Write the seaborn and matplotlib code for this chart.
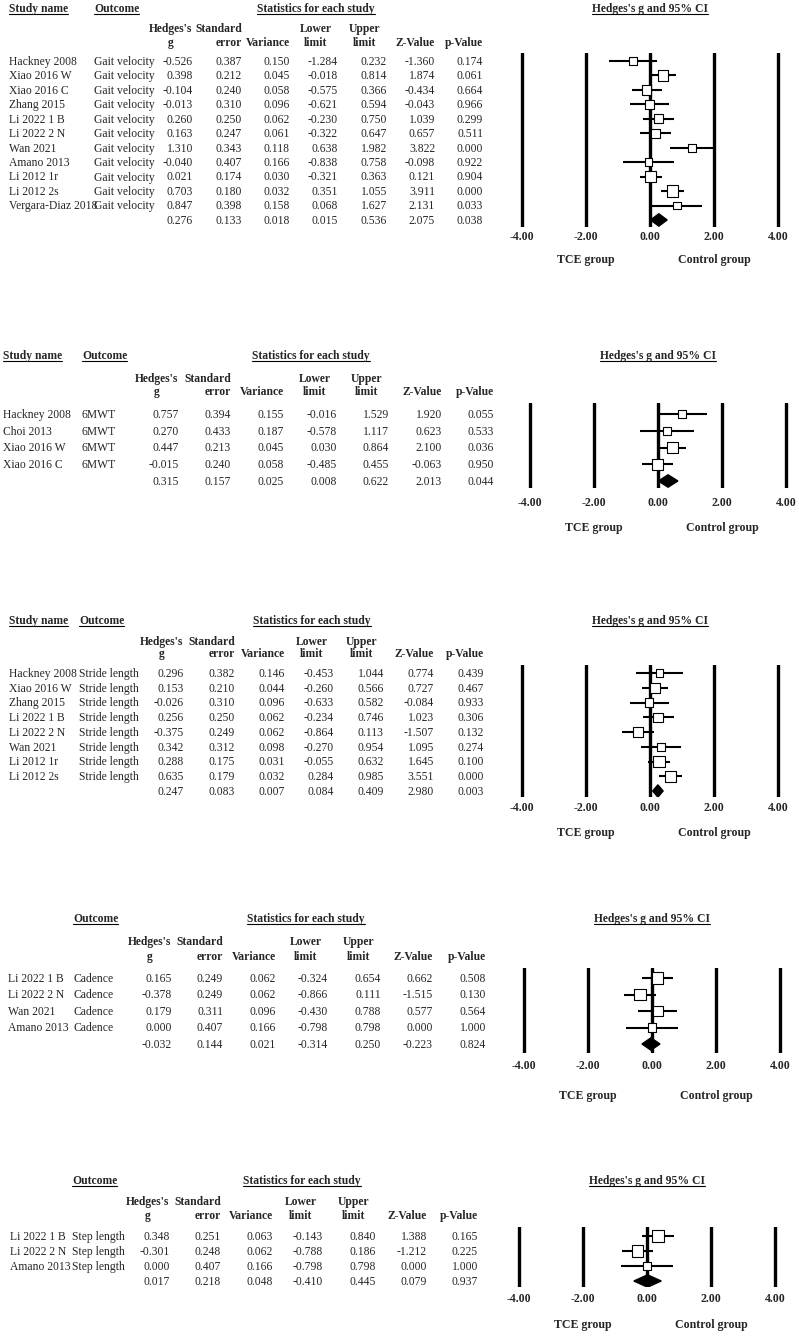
import numpy as np
import pandas as pd
import matplotlib
matplotlib.use("Agg")
import matplotlib.pyplot as plt
import matplotlib.transforms as mtransforms
from matplotlib.lines import Line2D
import seaborn as sns

# ---------------- data ----------------
# Gait velocity
gv_study = ["Hackney 2008", "Xiao 2016 W", "Xiao 2016 C", "Zhang 2015", "Li 2022 1 B",
            "Li 2022 2 N", "Wan 2021", "Amano 2013", "Li 2012 1r", "Li 2012 2s",
            "Vergara-Diaz 2018"]
gv_g = [-0.526, 0.398, -0.104, -0.013, 0.260, 0.163, 1.310, -0.040, 0.021, 0.703, 0.847]
gv_se = [0.387, 0.212, 0.240, 0.310, 0.250, 0.247, 0.343, 0.407, 0.174, 0.180, 0.398]
gv_var = [0.150, 0.045, 0.058, 0.096, 0.062, 0.061, 0.118, 0.166, 0.030, 0.032, 0.158]
gv_lo = [-1.284, -0.018, -0.575, -0.621, -0.230, -0.322, 0.638, -0.838, -0.321, 0.351, 0.068]
gv_hi = [0.232, 0.814, 0.366, 0.594, 0.750, 0.647, 1.982, 0.758, 0.363, 1.055, 1.627]
gv_z = [-1.360, 1.874, -0.434, -0.043, 1.039, 0.657, 3.822, -0.098, 0.121, 3.911, 2.131]
gv_p = [0.174, 0.061, 0.664, 0.966, 0.299, 0.511, 0.000, 0.922, 0.904, 0.000, 0.033]
gv_sum = [0.276, 0.133, 0.018, 0.015, 0.536, 2.075, 0.038]

# 6MWT
mw_study = ["Hackney 2008", "Choi 2013", "Xiao 2016 W", "Xiao 2016 C"]
mw_g = [0.757, 0.270, 0.447, -0.015]
mw_se = [0.394, 0.433, 0.213, 0.240]
mw_var = [0.155, 0.187, 0.045, 0.058]
mw_lo = [-0.016, -0.578, 0.030, -0.485]
mw_hi = [1.529, 1.117, 0.864, 0.455]
mw_z = [1.920, 0.623, 2.100, -0.063]
mw_p = [0.055, 0.533, 0.036, 0.950]
mw_sum = [0.315, 0.157, 0.025, 0.008, 0.622, 2.013, 0.044]

# Stride length
sl_study = ["Hackney 2008", "Xiao 2016 W", "Zhang 2015", "Li 2022 1 B", "Li 2022 2 N",
            "Wan 2021", "Li 2012 1r", "Li 2012 2s"]
sl_g = [0.296, 0.153, -0.026, 0.256, -0.375, 0.342, 0.288, 0.635]
sl_se = [0.382, 0.210, 0.310, 0.250, 0.249, 0.312, 0.175, 0.179]
sl_var = [0.146, 0.044, 0.096, 0.062, 0.062, 0.098, 0.031, 0.032]
sl_lo = [-0.453, -0.260, -0.633, -0.234, -0.864, -0.270, -0.055, 0.284]
sl_hi = [1.044, 0.566, 0.582, 0.746, 0.113, 0.954, 0.632, 0.985]
sl_z = [0.774, 0.727, -0.084, 1.023, -1.507, 1.095, 1.645, 3.551]
sl_p = [0.439, 0.467, 0.933, 0.306, 0.132, 0.274, 0.100, 0.000]
sl_sum = [0.247, 0.083, 0.007, 0.084, 0.409, 2.980, 0.003]

# Cadence
cd_study = ["Li 2022 1 B", "Li 2022 2 N", "Wan 2021", "Amano 2013"]
cd_g = [0.165, -0.378, 0.179, 0.000]
cd_se = [0.249, 0.249, 0.311, 0.407]
cd_var = [0.062, 0.062, 0.096, 0.166]
cd_lo = [-0.324, -0.866, -0.430, -0.798]
cd_hi = [0.654, 0.111, 0.788, 0.798]
cd_z = [0.662, -1.515, 0.577, 0.000]
cd_p = [0.508, 0.130, 0.564, 1.000]
cd_sum = [-0.032, 0.144, 0.021, -0.314, 0.250, -0.223, 0.824]

# Step length
st_study = ["Li 2022 1 B", "Li 2022 2 N", "Amano 2013"]
st_g = [0.348, -0.301, 0.000]
st_se = [0.251, 0.248, 0.407]
st_var = [0.063, 0.062, 0.166]
st_lo = [-0.143, -0.788, -0.798]
st_hi = [0.840, 0.186, 0.798]
st_z = [1.388, -1.212, 0.000]
st_p = [0.165, 0.225, 1.000]
st_sum = [0.017, 0.218, 0.048, -0.410, 0.445, 0.079, 0.937]

outcomes = ["Gait velocity", "6MWT", "Stride length", "Cadence", "Step length"]
ref_lines = [-4, -2, 0, 2, 4]
col_heads = [("Hedges's", "g"), ("Standard", "error"), ("", "Variance"),
             ("Lower", "limit"), ("Upper", "limit"), ("", "Z-Value"), ("", "p-Value")]

panels = [
    (gv_study, gv_g, gv_se, gv_var, gv_lo, gv_hi, gv_z, gv_p, gv_sum),
    (mw_study, mw_g, mw_se, mw_var, mw_lo, mw_hi, mw_z, mw_p, mw_sum),
    (sl_study, sl_g, sl_se, sl_var, sl_lo, sl_hi, sl_z, sl_p, sl_sum),
    (cd_study, cd_g, cd_se, cd_var, cd_lo, cd_hi, cd_z, cd_p, cd_sum),
    (st_study, st_g, st_se, st_var, st_lo, st_hi, st_z, st_p, st_sum),
]

# ---------------- layout (pixels) ----------------
layouts = [
    dict(study_x=9, outcome_x=94, rights=[193, 242, 290, 338, 387, 435, 483], zero=650,
         row0=61, step=14.45, top=53, bottom=227, head_y=8, col_y=(28, 42), stats_x=316,
         pad=2.9, group_y=259, show_study=True),
    dict(study_x=3, outcome_x=82, rights=[179, 231, 284, 337, 389, 442, 494], zero=658,
         row0=414, step=16.75, top=403, bottom=488, head_y=355, col_y=(378, 391), stats_x=311,
         pad=6.5, group_y=527, show_study=True),
    dict(study_x=9, outcome_x=79, rights=[184, 235, 285, 334, 384, 434, 484], zero=650,
         row0=673, step=14.75, top=665, bottom=797, head_y=620, col_y=(641, 653), stats_x=312,
         pad=3.6, group_y=832, show_study=True),
    dict(study_x=8, outcome_x=73, rights=[172, 223, 276, 328, 381, 433, 486], zero=652,
         row0=978, step=16.5, top=968, bottom=1053, head_y=918, col_y=(941, 956), stats_x=306,
         pad=5.0, group_y=1095, show_study=False),
    dict(study_x=10, outcome_x=72, rights=[170, 221, 273, 323, 376, 427, 478], zero=647,
         row0=1236, step=15.0, top=1227, bottom=1287, head_y=1180, col_y=(1201, 1215), stats_x=302,
         pad=4.3, group_y=1324, show_study=False),
]

W, H = 799, 1339
PX = 32      # pixels per effect-size unit
FS = 8.4
HALF_CAP = 3.9  # px from visual middle of a text line down to its baseline

sns.set_theme(style="white")
plt.rcParams["font.family"] = ["Liberation Serif", "DejaVu Serif"]

fig = plt.figure(figsize=(W / 100, H / 100), dpi=100)
fig.patch.set_facecolor("white")
pix = mtransforms.Affine2D().scale(1 / W, -1 / H).translate(0, 1) + fig.transFigure

underlined = []


def label(x, y, s, ha="left", bold=False, size=FS):
    # y is the visual middle of the line, in pixels from the top
    return fig.text(x, y + HALF_CAP, s, transform=pix, ha=ha, va="baseline",
                    fontsize=size, fontweight="bold" if bold else "normal")


for (study, g, se, var, lo, hi, z, p, summ), outcome, lay in zip(panels, outcomes, layouts):
    n = len(study)
    step, row0 = lay["step"], lay["row0"]
    left = lay["zero"] - 4.3 * PX
    ax = fig.add_axes([left / W, 1 - lay["bottom"] / H, 8.6 * PX / W,
                       (lay["bottom"] - lay["top"]) / H])

    rows = np.arange(n)
    for x in ref_lines:
        ax.axvline(x, color="black", lw=2.4, zorder=1)
    ax.hlines(rows, lo, hi, color="black", lw=1.5, zorder=2)

    inv = 1 / np.array(var)
    side = 4.5 + 7 * np.sqrt(inv / inv.max())
    df = pd.DataFrame({"g": g, "row": rows})
    sns.scatterplot(data=df, x="g", y="row", marker="s", s=(side * 0.72) ** 2,
                    color="white", edgecolor="black", linewidth=0.8, legend=False,
                    ax=ax, zorder=3)

    # summary diamond
    h = 6.2 / step
    g_s, lo_s, hi_s = summ[0], summ[3], summ[4]
    ax.fill([lo_s, g_s, hi_s, g_s], [n, n - h, n, n + h], color="black", zorder=3)

    ax.set_xlim(-4.3, 4.3)
    ax.set_ylim((lay["bottom"] - row0) / step, (lay["top"] - row0) / step)
    ax.set_xlabel("")
    ax.set_ylabel("")
    ax.set_xticks(ref_lines)
    ax.set_xticklabels([f"{v:.2f}" for v in ref_lines], fontweight="bold", fontsize=8.6)
    ax.set_yticks([])
    ax.tick_params(axis="x", length=0, pad=lay["pad"])
    for s in ax.spines.values():
        s.set_visible(False)
    ax.set_facecolor("none")
    ax.grid(False)

    # table rows (x in pixels, y on the forest plot's row scale)
    tr = mtransforms.blended_transform_factory(pix, ax.transData)
    off = HALF_CAP / step
    for i in range(n):
        ax.text(lay["study_x"], i + off, study[i], transform=tr, ha="left",
                va="baseline", fontsize=FS)
        ax.text(lay["outcome_x"], i + off, outcome, transform=tr, ha="left",
                va="baseline", fontsize=FS)
    columns = [g, se, var, lo, hi, z, p]
    for c, (vals, right) in enumerate(zip(columns, lay["rights"])):
        for i, v in enumerate(list(vals) + [summ[c]]):
            ax.text(right, i + off, f"{v:.3f}", transform=tr, ha="right",
                    va="baseline", fontsize=FS)

    # column headers
    for (l1, l2), right in zip(col_heads, lay["rights"]):
        if l1 in ("Hedges's", "Lower", "Upper"):
            x, ha = right - 22, "center"
        else:
            x, ha = right, "right"
        for txt, y in zip((l1, l2), lay["col_y"]):
            if txt:
                label(x, y, txt, ha=ha, bold=True)

    # top headers
    if lay["show_study"]:
        underlined.append(label(lay["study_x"], lay["head_y"], "Study name", bold=True))
    underlined.append(label(lay["outcome_x"], lay["head_y"], "Outcome", bold=True))
    underlined.append(label(lay["stats_x"], lay["head_y"], "Statistics for each study",
                            ha="center", bold=True))
    trx = mtransforms.blended_transform_factory(ax.transData, pix)
    underlined.append(ax.text(0, lay["head_y"] + HALF_CAP, "Hedges's g and 95% CI",
                              transform=trx, ha="center", va="baseline", fontsize=FS,
                              fontweight="bold"))
    ax.text(-2, lay["group_y"] + HALF_CAP, "TCE group", transform=trx, ha="center",
            va="baseline", fontsize=8.6, fontweight="bold")
    ax.text(2, lay["group_y"] + HALF_CAP, "Control group", transform=trx, ha="center",
            va="baseline", fontsize=8.6, fontweight="bold")

# underline header texts
fig.canvas.draw()
renderer = fig.canvas.get_renderer()
for t in underlined:
    bb = t.get_window_extent(renderer)
    y = bb.y0 + 1
    fig.add_artist(Line2D([bb.x0 / W, bb.x1 / W], [y / H, y / H],
                          transform=fig.transFigure, color="black", lw=0.8))

fig.savefig("out.png", dpi=100, facecolor="white")
